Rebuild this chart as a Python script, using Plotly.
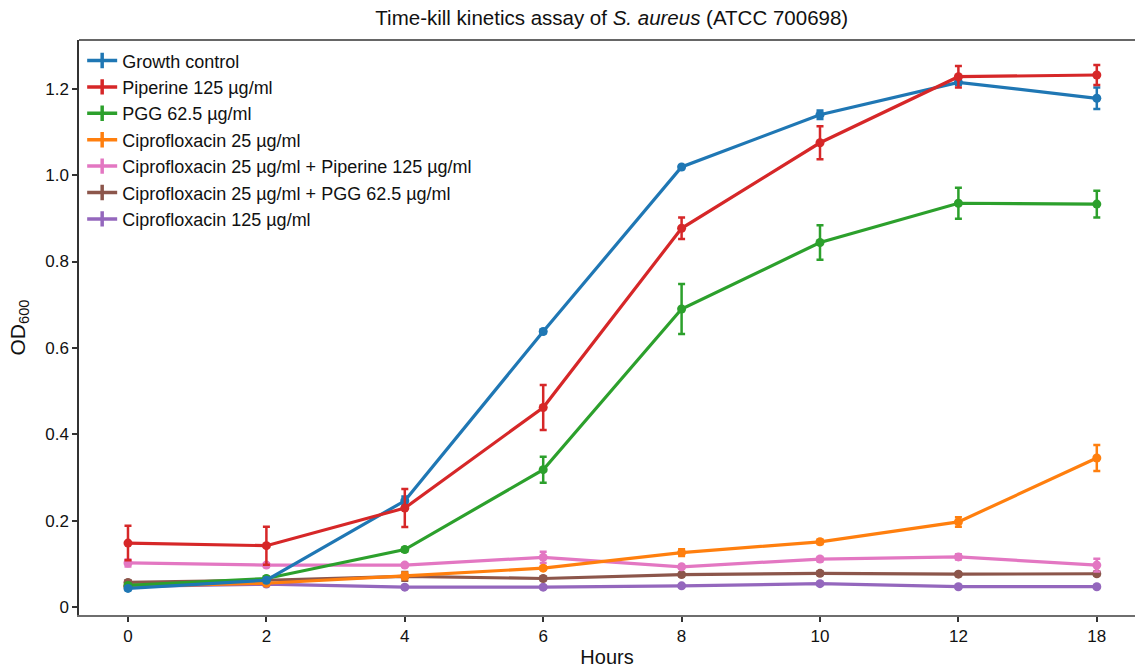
import plotly.graph_objects as go

hours = ["0", "2", "4", "6", "8", "10", "12", "18"]

names = [
    "Growth control",
    "Piperine 125 µg/ml",
    "PGG 62.5 µg/ml",
    "Ciprofloxacin 25 µg/ml",
    "Ciprofloxacin 25 µg/ml + Piperine 125 µg/ml",
    "Ciprofloxacin 25 µg/ml + PGG 62.5 µg/ml",
    "Ciprofloxacin 125 µg/ml",
]
colors = ["#1f77b4", "#d62728", "#2ca02c", "#ff7f0e", "#e377c2", "#8c564b", "#9467bd"]

growth_control = [0.043, 0.062, 0.246, 0.638, 1.019, 1.140, 1.215, 1.178]
growth_control_err = [0.004, 0.004, 0.010, 0.004, 0.004, 0.010, 0.006, 0.025]

piperine = [0.148, 0.142, 0.229, 0.462, 0.877, 1.075, 1.228, 1.232]
piperine_err = [0.040, 0.044, 0.044, 0.052, 0.025, 0.038, 0.025, 0.023]

pgg = [0.050, 0.066, 0.133, 0.318, 0.690, 0.844, 0.935, 0.933]
pgg_err = [0.004, 0.004, 0.005, 0.030, 0.058, 0.040, 0.036, 0.031]

cipro25 = [0.048, 0.055, 0.072, 0.090, 0.126, 0.151, 0.197, 0.345]
cipro25_err = [0.004, 0.004, 0.008, 0.004, 0.008, 0.005, 0.011, 0.030]

cipro_piperine = [0.102, 0.097, 0.097, 0.115, 0.093, 0.111, 0.116, 0.097]
cipro_piperine_err = [0.008, 0.004, 0.004, 0.013, 0.004, 0.005, 0.006, 0.015]

cipro_pgg = [0.057, 0.062, 0.071, 0.066, 0.075, 0.078, 0.076, 0.077]
cipro_pgg_err = [0.005, 0.004, 0.010, 0.004, 0.004, 0.004, 0.004, 0.004]

cipro125 = [0.048, 0.053, 0.046, 0.046, 0.049, 0.054, 0.047, 0.047]
cipro125_err = [0.003, 0.003, 0.003, 0.003, 0.003, 0.003, 0.003, 0.003]

series = [growth_control, piperine, pgg, cipro25, cipro_piperine, cipro_pgg, cipro125]
errors = [growth_control_err, piperine_err, pgg_err, cipro25_err,
          cipro_piperine_err, cipro_pgg_err, cipro125_err]

y_ticks = [0, 0.2, 0.4, 0.6, 0.8, 1.0, 1.2]
y_ticktext = ["0", "0.2", "0.4", "0.6", "0.8", "1.0", "1.2"]

fig = go.Figure()

# data traces (drawn in reverse so Growth control sits on top like the reference)
order = [6, 5, 4, 3, 2, 0, 1]
for i in order:
    fig.add_trace(go.Scatter(
        x=hours, y=series[i], name=names[i], mode="lines+markers",
        line=dict(color=colors[i], width=3.2),
        marker=dict(color=colors[i], size=9, symbol="circle"),
        error_y=dict(type="data", array=errors[i], visible=True,
                     color=colors[i], thickness=2.5, width=3.5),
        showlegend=False,
    ))

# legend entries (cross-like icon: line + vertical bar)
for i in range(len(names)):
    fig.add_trace(go.Scatter(
        x=[None], y=[None], name=names[i], mode="lines+markers",
        line=dict(color=colors[i], width=3.5),
        marker=dict(color=colors[i], size=11, symbol="line-ns",
                    line=dict(color=colors[i], width=3.5)),
        showlegend=True,
    ))

fig.update_layout(
    width=1135, height=668,
    margin=dict(l=79, r=0, t=40, b=53),
    paper_bgcolor="white", plot_bgcolor="white",
    font=dict(family="Arial, Liberation Sans, sans-serif", color="#111", size=16),
    title=dict(
        text="Time-kill kinetics assay of <i>S. aureus</i> (ATCC 700698)",
        x=0.539, xanchor="center", y=1 - 18 / 668, yanchor="middle", yref="container",
        font=dict(family="Liberation Sans Narrow, Arial Narrow, Arial", size=20.5, color="#111"),
    ),
    legend=dict(
        x=0.003, y=0.996, xanchor="left", yanchor="top",
        bgcolor="rgba(255,255,255,0)", font=dict(size=18, color="#111"),
        tracegroupgap=0, itemwidth=30, traceorder="normal",
    ),
    xaxis=dict(
        type="category", categoryorder="array", categoryarray=hours,
        range=[-0.354, 7.276],
        showgrid=False, zeroline=False,
        showline=True, linecolor="#6e6e6e", linewidth=2,
        ticks="outside", ticklen=5, tickwidth=2, tickcolor="#333",
        tickfont=dict(size=17, color="#111"),
        title=dict(text="Hours", font=dict(size=20, color="#111"), standoff=8),
    ),
    yaxis=dict(
        range=[-0.0185, 1.313],
        tickmode="array", tickvals=y_ticks, ticktext=y_ticktext,
        showgrid=False, zeroline=False,
        showline=True, linecolor="#333", linewidth=1.5,
        ticks="outside", ticklen=5, tickwidth=1.5, tickcolor="#333",
        tickfont=dict(size=17, color="#111"),
        title=dict(text="OD<sub>600</sub>", font=dict(size=21, color="#111"), standoff=14),
    ),
    shapes=[dict(type="line", xref="paper", yref="paper", x0=0, x1=1, y0=1, y1=1,
                 line=dict(color="#333", width=1.5))],
)

fig.write_html("out.html")
